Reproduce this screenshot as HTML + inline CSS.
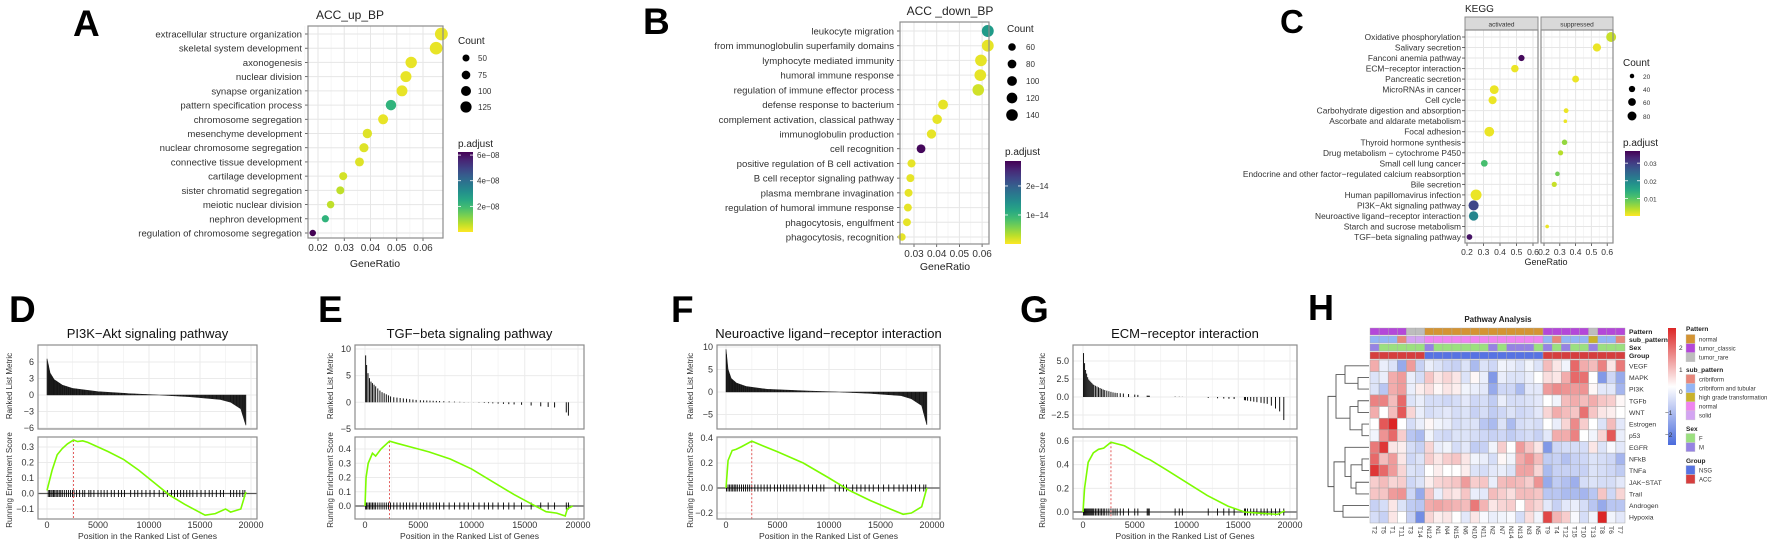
<!DOCTYPE html>
<html><head><meta charset="utf-8"><title>Enrichment figure</title>
<style>
html,body{margin:0;padding:0;background:#fff;}
svg{display:block;font-family:"Liberation Sans",Arial,sans-serif;}
</style></head>
<body>
<svg id="fig" width="1772" height="543" viewBox="0 0 1772 543" xmlns="http://www.w3.org/2000/svg">
<defs>
<clipPath id="clipC"><rect x="1229" y="0" width="543" height="275"/></clipPath>
</defs>
</svg>
<script>
// ---------- Panel A data ----------
const A_terms=["extracellular structure organization","skeletal system development","axonogenesis","nuclear division","synapse organization","pattern specification process","chromosome segregation","mesenchyme development","nuclear chromosome segregation","connective tissue development","cartilage development","sister chromatid segregation","meiotic nuclear division","nephron development","regulation of chromosome segregation"];
const A_ratio=[0.067,0.065,0.0555,0.0535,0.052,0.0478,0.0448,0.0388,0.0375,0.0358,0.0296,0.0285,0.0248,0.0228,0.018];
const A_count=[165,160,130,122,118,110,100,88,84,80,66,64,56,52,42];
const A_padj=[0.2e-8,0.2e-8,0.2e-8,0.2e-8,0.2e-8,2.2e-8,0.2e-8,0.3e-8,0.3e-8,0.3e-8,0.4e-8,0.6e-8,0.6e-8,2.2e-8,6.3e-8];
const A_ticks=[0.02,0.03,0.04,0.05,0.06];
// ---------- Panel B data ----------
const B_terms=["leukocyte migration","from immunoglobulin superfamily domains","lymphocyte mediated immunity","humoral immune response","regulation of immune effector process","defense response to bacterium","complement activation, classical pathway","immunoglobulin production","cell recognition","positive regulation of B cell activation","B cell receptor signaling pathway","plasma membrane invagination","regulation of humoral immune response","phagocytosis, engulfment","phagocytosis, recognition"];
const B_ratio=[0.0625,0.0625,0.0595,0.0592,0.0583,0.0428,0.0402,0.0377,0.0331,0.0289,0.0284,0.0276,0.0273,0.0269,0.0247];
const B_count=[148,146,142,141,139,102,96,90,80,68,67,66,65,64,58];
const B_padj=[1.3e-14,0.1e-14,0.1e-14,0.1e-14,0.2e-14,0.1e-14,0.1e-14,0.1e-14,2.8e-14,0.1e-14,0.1e-14,0.1e-14,0.1e-14,0.1e-14,0.1e-14];
const B_ticks=[0.03,0.04,0.05,0.06];
// ---------- Panel C data ----------
const C_terms=["Oxidative phosphorylation","Salivary secretion","Fanconi anemia pathway","ECM\u2212receptor interaction","Pancreatic secretion","MicroRNAs in cancer","Cell cycle","Carbohydrate digestion and absorption","Ascorbate and aldarate metabolism","Focal adhesion","Thyroid hormone synthesis","Drug metabolism \u2212 cytochrome P450","Small cell lung cancer","Endocrine and other factor\u2212regulated calcium reabsorption","Bile secretion","Human papillomavirus infection","PI3K\u2212Akt signaling pathway","Neuroactive ligand\u2212receptor interaction","Starch and sucrose metabolism","TGF\u2212beta signaling pathway"];
const C_facet=["s","s","a","a","s","a","a","s","s","a","s","s","a","s","s","a","a","a","s","a"];
const C_ratio=[0.625,0.535,0.53,0.49,0.40,0.365,0.355,0.34,0.335,0.335,0.33,0.305,0.305,0.285,0.265,0.255,0.24,0.24,0.22,0.215];
const C_count=[92,62,36,52,44,72,62,22,12,88,28,25,42,20,25,110,95,82,12,30];
const C_padj=[0.003,0.001,0.036,0.001,0.001,0.001,0.001,0.001,0.001,0.001,0.006,0.004,0.011,0.008,0.003,0.001,0.029,0.020,0.001,0.035];
const C_ticks=[0.2,0.3,0.4,0.5,0.6];
// ---------- GSEA data ----------
const D_esX=[0,500,1000,1500,2000,2600,3000,3500,4000,5000,6000,7500,9000,10500,12000,13500,15500,16500,17500,18000,19000,19500];
const D_esY=[0.02,0.15,0.25,0.29,0.32,0.345,0.335,0.34,0.33,0.30,0.27,0.22,0.15,0.07,-0.01,-0.07,-0.14,-0.13,-0.10,-0.12,-0.10,0.01];
const D_metX=[0,300,700,1500,2500,5000,8000,11000,14000,17000,18000,19000,19500];
const D_metY=[6.6,4,2.8,1.8,1.2,0.6,0.25,0,-0.3,-0.8,-1.3,-2.5,-5.5];
const D_hits=[120,250,380,500,640,760,900,1050,1200,1350,1500,1700,1900,2100,2300,2500,2650,2900,3200,3500,3700,4100,4300,4600,5000,5300,5600,5900,6300,6600,7000,7300,7600,8200,8600,8900,9300,9700,10100,10500,11000,11400,11800,12200,12500,12800,13100,13400,13700,14000,14300,14700,15100,15500,15900,16200,16600,17000,17300,18000,18300,18600,18900,19200,19400];
const E_esX=[0,100,300,700,1000,1500,2300,3000,5000,6000,8000,10000,12000,14000,15500,17000,18000,18800,19000,19500];
const E_esY=[0,0.2,0.3,0.37,0.35,0.40,0.455,0.44,0.40,0.38,0.33,0.26,0.17,0.08,0.02,-0.04,-0.05,-0.07,-0.02,0];
const E_metX=[0,200,500,1000,1500,2500,5000,10000,15000,18000,19000,19500];
const E_metY=[10,6,4,3,2,1,0.4,0,-0.5,-1,-2,-4.5];
const E_hits=[60,150,280,420,560,700,850,1000,1200,1400,1600,1800,2000,2200,2400,2700,3000,3300,3600,3900,4200,4500,4800,5200,5500,5800,6100,6400,6700,7000,7400,7900,8400,8900,9300,9700,10200,10700,11200,11600,12000,12500,13000,13500,14000,14700,15600,16500,17200,17800,18900,19100];
const F_esX=[0,200,600,1000,1500,2500,3500,5000,7500,10000,12000,14000,16000,17200,18000,19000,19500];
const F_esY=[0,0.22,0.30,0.31,0.33,0.375,0.34,0.29,0.20,0.08,-0.02,-0.10,-0.17,-0.21,-0.20,-0.15,0];
const F_metX=[0,200,500,1000,2000,4000,8000,11000,14000,17000,18000,19000,19500];
const F_metY=[9.5,5,3,2,1.2,0.6,0.2,0,-0.3,-0.8,-1.5,-3,-7.3];
const F_hits=[50,200,350,500,650,800,950,1100,1300,1500,1700,1900,2100,2300,2500,2800,3100,3400,3700,4000,4300,4700,5000,5300,5600,5900,6200,6500,6800,7200,7600,8000,8400,8800,9200,9500,10600,11000,11400,11700,12300,12700,13100,13500,13900,14300,14800,15300,15800,16300,16800,17200,17600,18000,18400,18800,19200,19400];
const G_esX=[0,150,500,1000,1500,2000,2700,4000,6000,6500,8000,10000,12000,14000,15600,17000,18800,19500];
const G_esY=[0,0.2,0.42,0.50,0.53,0.54,0.59,0.56,0.46,0.44,0.36,0.25,0.14,0.05,0,-0.01,-0.02,0.01];
const G_metX=[0,200,500,1000,2000,3000,6000,10000,15000,18000,19000,19500];
const G_metY=[6.8,4,2.5,1.7,1,0.6,0.2,0,-0.3,-1,-2,-3.5];
const G_hits=[50,150,250,350,450,550,650,750,850,950,1050,1200,1350,1500,1650,1800,1950,2100,2300,2500,2700,2900,3100,3300,3600,3900,4400,5000,5300,6200,6300,6400,8900,9300,9600,12100,13000,13600,14100,14600,15600,15700,15900,16200,16500,16800,17200,17500,17800,18200,18600,19000,19400];
// ---------- Heatmap data ----------
const H_cols=["T2","T5","T1","T11","T3","T14","N12","N1","N4","N15","N6","N10","N11","N2","N7","N14","N13","N3","N5","T9","T4","T12","T15","T10","T13","T8","T6","T7"];
const H_rows=["VEGF","MAPK","PI3K","TGFb","WNT","Estrogen","p53","EGFR","NFkB","TNFa","JAK\u2212STAT","Trail","Androgen","Hypoxia"];
const H_vegf=[1,-0.3,-0.5,-1.5,1.2,-0.8,-0.3,-0.5,-0.7,-0.8,-0.5,-1.2,-0.5,-0.7,-0.2,-0.3,-0.5,-0.2,-0.5,0.8,0.3,-0.2,1.8,1,0.8,1.5,0.3,1.6];
const H_mapk=[-0.5,-0.3,1,1.2,-0.3,-0.6,0.7,0.3,0.5,0.3,-0.5,0.1,-0.3,-1.8,-0.3,-0.5,-0.5,-0.3,0,0.4,0.3,1,1.8,1.7,0,-1.8,-0.7,-1.5];
const H_pi3k=[-0.5,-1,1,1.2,-0.3,0.2,0.4,0.1,0.3,0.2,-0.2,-0.3,-0.4,-1.5,-0.7,-0.7,-1.2,-0.4,-0.4,1.2,1.4,1.3,1.2,1.3,0.1,-0.4,-0.4,-1.3];
const H_tgfb=[1.5,1.5,0.8,1.8,-0.5,-0.3,-0.6,-0.6,-0.7,-0.6,-0.4,-0.7,-0.6,-0.9,-0.3,-0.6,-0.6,-0.5,-0.4,0,-0.2,0.8,1,0.8,1,0.7,0.6,0.1];
const H_wnt=[1,0,0.8,2,0.5,-0.3,-0.6,-0.5,-0.4,-0.6,-0.5,-0.8,-0.6,-0.9,-0.7,-0.5,-0.7,-0.6,-0.4,0.5,1,0.8,0.7,1.7,0.7,0.3,0.2,0];
const H_estrogen=[0,2,2.6,0,-0.6,-0.3,0.1,-0.2,-0.3,-0.6,-0.5,-0.5,-1,-1.2,-0.5,-1.2,-0.6,-0.5,-0.6,0,-0.3,0.5,1.4,0.6,0,-0.5,0.8,-0.4];
const H_p53=[-0.2,1.3,1.8,0.6,-1,-1.2,-0.2,-0.6,-0.7,-0.5,-0.5,-0.6,-0.7,-0.8,-0.7,-0.9,-0.7,-0.6,-0.8,-0.4,1,1,1.5,0,-0.2,0.5,2,-0.3];
const H_egfr=[1.6,2.4,0.3,0.2,-0.6,-0.8,0.5,-0.3,-0.2,-0.6,-0.4,-0.9,-0.8,-0.2,0.6,0,1.2,0.7,0.3,-1.8,-0.7,-0.6,-0.6,-0.6,0.3,-0.5,-0.1,-0.4];
const H_nfkb=[1.8,0.8,1.2,0.3,-0.7,-0.5,0.6,0.3,0.6,0.7,0.3,-0.2,-0.3,-0.6,0.1,-0.2,1,1.3,0.8,-0.9,-0.8,-1.1,-0.8,-0.7,-0.5,-0.6,-0.7,-1.3];
const H_tnfa=[2.4,1.8,1.2,0.5,-0.5,-0.6,0,0.2,0,0,0.2,-0.5,-0.6,-0.4,-0.3,-0.5,1.1,1.1,0.5,-1.2,-0.8,-0.8,-0.8,-0.8,-0.5,-0.6,-0.7,-0.9];
const H_jak=[0.6,0.8,0.5,0.6,-0.7,-0.5,0.2,0.5,0.6,0.7,1.2,0.6,0.7,-0.3,0.8,0.9,0.8,0.6,1.3,-1.5,-0.9,-1.1,-1.4,-0.6,-0.5,-0.6,-0.6,-0.4];
const H_trail=[0.7,0.7,1.2,1.3,-0.7,-1.5,0.7,-0.3,0.4,0.3,0.7,-0.3,-0.4,0.8,0.6,0.4,0.8,0.8,0.7,-1,-1,-1.2,-1.2,-1.3,-1,0.7,-0.7,0.5];
const H_androgen=[-0.8,-0.6,0.3,-0.5,-0.9,-1,1,1.1,1,0.9,0.8,1.6,0.9,0.3,0.5,0.6,0,0.7,0.5,-0.4,-0.8,-0.4,-0.3,-0.6,-1,-1.5,-1,-1];
const H_hypoxia=[-0.6,-0.8,0.3,0,-0.8,-2,0.5,0.2,0.3,0,-0.4,0.3,-0.1,-0.3,-0.2,-0.1,-0.6,0.4,-0.2,2.2,0.9,0.6,-0.1,-0.6,-0.2,2.6,-0.2,-0.4];
const H_pattern=["tc","tc","tc","tc","tr","tr","n","n","n","n","n","n","n","n","n","n","n","n","n","tc","tc","tc","tc","tc","tr","tc","tc","tc"];
const H_sub=["ct","ct","ct","cr","so","so","nm","nm","nm","nm","nm","nm","nm","nm","nm","nm","nm","nm","nm","ct","cr","ct","ct","ct","hg","ct","ct","cr"];
const H_sex=["M","F","F","F","F","F","M","F","F","F","F","F","F","M","F","M","M","M","F","M","F","M","F","F","M","F","F","F"];
const H_group=["A","A","A","A","A","A","N","N","N","N","N","N","N","N","N","N","N","N","N","A","A","A","A","A","A","A","A","A"];
const H_merges=[[1,2,1358],[3,4,1358],[5,6,1362],["m1","m2",1350],[0,"m0",1345],["m4","m3",1336],[8,9,1362],[10,11,1356],["m6","m7",1351],[7,"m8",1345],[12,13,1343],["m9","m10",1334],["m5","m11",1328]];

// ---------- helpers ----------
const NS='http://www.w3.org/2000/svg';
const svg=document.getElementById('fig');
function mk(tag,attrs,parent){const e=document.createElementNS(NS,tag);for(const k in attrs)e.setAttribute(k,attrs[k]);(parent||svg).appendChild(e);return e;}
function tx(str,x,y,attrs,parent){const t=mk('text',Object.assign({x:x,y:y},attrs||{}),parent);t.textContent=str;return t;}
const VIR=['#440154','#482878','#3e4989','#31688e','#26828e','#1f9e89','#35b779','#6ece58','#b5de2b','#fde725'];
function hex2(h){return [parseInt(h.substr(1,2),16),parseInt(h.substr(3,2),16),parseInt(h.substr(5,2),16)];}
function mix(a,b,t){const A=hex2(a),B=hex2(b);return 'rgb('+A.map((v,i)=>Math.round(v+(B[i]-v)*t)).join(',')+')';}
function vir(t){t=Math.max(0,Math.min(1,t));const p=t*(VIR.length-1);const i=Math.min(VIR.length-2,Math.floor(p));return mix(VIR[i],VIR[i+1],p-i);}
function padjColor(p,pmax){return vir(1-p/pmax);}
function div(v){const t=Math.max(-1,Math.min(1,v/2.6));return t<0?mix('#ffffff','#4a6bdc',-t):mix('#ffffff','#dc2626',t);}
function fmt(v){return String(v).replace('-','\u2212');}

// ---------- big panel letters ----------
[["A",73,36,37],["B",643,34,37],["C",1280,33,33],["D",9,322,37],["E",318,322,37],["F",671,322,37],["G",1020,322,37],["H",1308,320,36]].forEach(L=>{
  const t=tx(L[0],L[1],L[2],{'font-size':L[3],'font-weight':'bold',fill:'#000'});
  
  
});

// ---------- dot-plot panel drawing ----------
function gradient(id){
  const defs=svg.querySelector('defs');
  const lg=mk('linearGradient',{id:id,x1:0,y1:1,x2:0,y2:0},defs);
  for(let i=0;i<=10;i++){mk('stop',{offset:(i/10),'stop-color':vir(1-i/10)},lg);}
}
function facetPanel(g,x0,x1,y0,y1,rowYs,xpos,ticks,minorTicks,name){
  const bg=mk('rect',{x:x0,y:y0,width:x1-x0,height:y1-y0,fill:'#fff'},g);
  
  
  minorTicks.forEach(v=>{const l=mk('line',{x1:xpos(v),x2:xpos(v),y1:y0,y2:y1,stroke:'#f3f3f3','stroke-width':0.8},g);
    
    });
  ticks.forEach(v=>{const l=mk('line',{x1:xpos(v),x2:xpos(v),y1:y0,y2:y1,stroke:'#e6e6e6','stroke-width':1},g);
    
    });
  rowYs.forEach(y=>{const l=mk('line',{x1:x0,x2:x1,y1:y,y2:y,stroke:'#e6e6e6','stroke-width':1},g);
    
    });
}
function border(g,x0,x1,y0,y1,name){
  const b=mk('rect',{x:x0,y:y0,width:x1-x0,height:y1-y0,fill:'none',stroke:'#8c8c8c','stroke-width':1.2},g);
  
  
}
function sizeLegend(g,x,titleY,dotX,lblX,vals,ys,rk,fs,name){
  const t=tx('Count',x,titleY,{'font-size':10,fill:'#222'},g);
  
  
  vals.forEach((v,i)=>{
    const c=mk('circle',{cx:dotX,cy:ys[i],r:rk*Math.sqrt(v),fill:'#000'},g);
    
    
    const l=tx(String(v),lblX,ys[i]+3,{'font-size':fs,fill:'#333'},g);
    
    
  });
}
function colorLegend(g,x,titleY,bx,bw,by0,by1,pmax,tickVals,tickLbls,lblX,fs,gid,name){
  const t=tx('p.adjust',x,titleY,{'font-size':10,fill:'#222'},g);
  
  
  const r=mk('rect',{x:bx,y:by0,width:bw,height:by1-by0,fill:'url(#'+gid+')'},g);
  
  
  tickVals.forEach((v,i)=>{
    const y=by1-(v/pmax)*(by1-by0);
    const l1=mk('line',{x1:bx,x2:bx+3,y1:y,y2:y,stroke:'#fff','stroke-width':0.8},g);
    
    
    const l2=mk('line',{x1:bx+bw-3,x2:bx+bw,y1:y,y2:y,stroke:'#fff','stroke-width':0.8},g);
    
    
    const lt=tx(tickLbls[i],lblX,y+3,{'font-size':fs,fill:'#333'},g);
    
    
  });
}

function dotPlot(cfg){
  const g=mk('g',{});
  
  
  const n=cfg.terms.length;
  const rowY=i=>cfg.rowTop+i*(cfg.rowBot-cfg.rowTop)/(n-1);
  const xpos=v=>cfg.xAt0+(v-cfg.v0)*cfg.pxPerUnit;
  const rowYs=cfg.terms.map((_,i)=>rowY(i));
  const minors=[];for(let i=0;i<cfg.ticks.length-1;i++)minors.push((cfg.ticks[i]+cfg.ticks[i+1])/2);
  minors.push(cfg.ticks[0]-(cfg.ticks[1]-cfg.ticks[0])/2);
  facetPanel(g,cfg.x0,cfg.x1,cfg.y0,cfg.y1,rowYs,xpos,cfg.ticks,minors,cfg.name);
  const tt=tx(cfg.title,cfg.titleX,cfg.titleY,{'font-size':12,fill:'#222','text-anchor':'middle'},g);
  
  
  cfg.terms.forEach((t,i)=>{
    const l=tx(t,cfg.x0-6,rowY(i)+3.5,{'font-size':cfg.fs,fill:'#333','text-anchor':'end'},g);
    
    
    const tk=mk('line',{x1:cfg.x0-3,x2:cfg.x0,y1:rowY(i),y2:rowY(i),stroke:'#444','stroke-width':0.8},g);
    
    
  });
  cfg.ticks.forEach(v=>{
    const tk=mk('line',{x1:xpos(v),x2:xpos(v),y1:cfg.y1,y2:cfg.y1+3,stroke:'#444','stroke-width':0.8},g);
    
    
    const l=tx(v.toFixed(2),xpos(v),cfg.y1+13,{'font-size':cfg.tickFs,fill:'#333','text-anchor':'middle'},g);
    
    
  });
  const xl=tx('GeneRatio',cfg.xLabX,cfg.xLabY,{'font-size':10.5,fill:'#222','text-anchor':'middle'},g);
  
  
  cfg.ratio.forEach((v,i)=>{
    const c=mk('circle',{cx:xpos(v),cy:rowY(i),r:cfg.rk*Math.sqrt(cfg.count[i]),fill:padjColor(cfg.padj[i],cfg.pmax)},g);
    
    
  });
  border(g,cfg.x0,cfg.x1,cfg.y0,cfg.y1,cfg.name);
  return g;
}
gradient('gradVir');

const gA=dotPlot({name:'panel-a',terms:A_terms,ratio:A_ratio,count:A_count,padj:A_padj,pmax:6.24e-8,ticks:A_ticks,
  x0:308,x1:443,y0:26,y1:238,rowTop:34,rowBot:233,xAt0:318,v0:0.02,pxPerUnit:2625,fs:9.6,tickFs:10,rk:0.5,
  title:'ACC_up_BP',titleX:350,titleY:19,xLabX:375,xLabY:267});
sizeLegend(gA,458,44,466,478,[50,75,100,125],[58,75,91,107],0.5,8,'panel-a');
colorLegend(gA,458,147,458,15,152,232,6.24e-8,[2e-8,4e-8,6e-8],['2e\u221208','4e\u221208','6e\u221208'],477,8,'gradVir','panel-a');

const gB=dotPlot({name:'panel-b',terms:B_terms,ratio:B_ratio,count:B_count,padj:B_padj,pmax:2.86e-14,ticks:B_ticks,
  x0:900,x1:989,y0:22,y1:244,rowTop:31,rowBot:237,xAt0:914,v0:0.03,pxPerUnit:2270,fs:9.6,tickFs:10,rk:0.49,
  title:'ACC _down_BP',titleX:950,titleY:15,xLabX:945,xLabY:270});
sizeLegend(gB,1007,32,1012,1026,[60,80,100,120,140],[47,64,81,98,115],0.49,8,'panel-b');
colorLegend(gB,1005,155,1005,16,161,244,2.86e-14,[1e-14,2e-14],['1e\u221214','2e\u221214'],1026,8,'gradVir','panel-b');

// ---------- Panel C (faceted) ----------
(function(){
  const g=mk('g',{'clip-path':'url(#clipC)'});
  
  
  const n=C_terms.length,rowTop=37,rowBot=237,y0=30,y1=243;
  const rowY=i=>rowTop+i*(rowBot-rowTop)/(n-1);
  const rowYs=C_terms.map((_,i)=>rowY(i));
  const facets=[{k:'a',lbl:'activated',x0:1465,x1:1538,at:1467,ppu:165},{k:'s',lbl:'suppressed',x0:1541,x1:1613,at:1544,ppu:158}];
  const kt=tx('KEGG',1465,12,{'font-size':10,fill:'#222'},g);
  
  
  facets.forEach(f=>{
    const xpos=v=>f.at+(v-0.2)*f.ppu;
    facetPanel(g,f.x0,f.x1,y0,y1,rowYs,xpos,C_ticks,[0.25,0.35,0.45,0.55],'panel-c-'+f.lbl);
    const st=mk('rect',{x:f.x0,y:17,width:f.x1-f.x0,height:13,fill:'#d9d9d9',stroke:'#8c8c8c','stroke-width':1},g);
    
    
    const sl=tx(f.lbl,(f.x0+f.x1)/2,26.5,{'font-size':6.5,fill:'#333','text-anchor':'middle'},g);
    
    
    C_ticks.forEach(v=>{
      const tk=mk('line',{x1:xpos(v),x2:xpos(v),y1:y1,y2:y1+3,stroke:'#444','stroke-width':0.8},g);
      
      
      const l=tx(v.toFixed(1),xpos(v),y1+12,{'font-size':8.5,fill:'#333','text-anchor':'middle'},g);
      
      
    });
    C_ratio.forEach((v,i)=>{
      if(C_facet[i]!==f.k)return;
      const c=mk('circle',{cx:xpos(v),cy:rowY(i),r:0.52*Math.sqrt(C_count[i]),fill:padjColor(C_padj[i],0.0369)},g);
      
      
    });
    border(g,f.x0,f.x1,y0,y1,'panel-c-'+f.lbl);
  });
  C_terms.forEach((t,i)=>{
    const l=tx(t,1461,rowY(i)+3,{'font-size':8.4,fill:'#333','text-anchor':'end'},g);
    
    
    const tk=mk('line',{x1:1462,x2:1465,y1:rowY(i),y2:rowY(i),stroke:'#444','stroke-width':0.8},g);
    
    
  });
  const xl=tx('GeneRatio',1546,265,{'font-size':9,fill:'#222','text-anchor':'middle'},g);
  
  
  sizeLegend(g,1623,66,1632,1643,[20,40,60,80],[76,89,102,116],0.5,6.5,'panel-c');
  colorLegend(g,1623,146,1625,15,151,216,0.0369,[0.01,0.02,0.03],['0.01','0.02','0.03'],1644,6.5,'gradVir','panel-c');
})();

// ---------- GSEA panels ----------
function interp(xs,ys,x){if(x<=xs[0])return ys[0];for(let i=1;i<xs.length;i++){if(x<=xs[i]){const t=(x-xs[i-1])/(xs[i]-xs[i-1]);return ys[i-1]+t*(ys[i]-ys[i-1]);}}return ys[ys.length-1];}
function gsea(c){
  const g=mk('g',{});
  
  
  const X=p=>c.x0v+p*(c.x20k-c.x0v)/20000;
  const T0=345,T1=429,B0=437,B1=519;
  const yT=v=>c.tRef+(c.tRefV-v)*c.tPx;
  const yB=v=>c.bRef+(c.bRefV-v)*c.bPx;
  const tt=tx(c.title,(c.px0+c.px1)/2,338,{'font-size':13,fill:'#111','text-anchor':'middle'},g);
  
  
  [[T0,T1,'top'],[B0,B1,'bottom']].forEach(P=>{
    const r=mk('rect',{x:c.px0,y:P[0],width:c.px1-c.px0,height:P[1]-P[0],fill:'#fff'},g);
    
    
    [0,5000,10000,15000,20000,2500,7500,12500,17500].forEach((p,k)=>{
      const l=mk('line',{x1:X(p),x2:X(p),y1:P[0],y2:P[1],stroke:k<5?'#ebebeb':'#f5f5f5','stroke-width':1},g);
      
      
    });
  });
  c.tTicks.forEach((v,i)=>{
    const l=mk('line',{x1:c.px0,x2:c.px1,y1:yT(v),y2:yT(v),stroke:'#ebebeb','stroke-width':1},g);
    
    
    const t=tx(c.tLbls[i],c.px0-4,yT(v)+3,{'font-size':9,fill:'#333','text-anchor':'end'},g);
    
    
  });
  c.bTicks.forEach((v,i)=>{
    const l=mk('line',{x1:c.px0,x2:c.px1,y1:yB(v),y2:yB(v),stroke:'#ebebeb','stroke-width':1},g);
    
    
    const t=tx(c.bLbls[i],c.px0-4,yB(v)+3,{'font-size':9,fill:'#333','text-anchor':'end'},g);
    
    
  });
  if(c.dense){
    let d='M'+X(c.metX[0])+','+yT(0);
    c.metX.forEach((p,i)=>{d+=' L'+X(p)+','+yT(c.metY[i]);});
    d+=' L'+X(c.metX[c.metX.length-1])+','+yT(0)+' Z';
    const a=mk('path',{d:d,fill:'#222',stroke:'#222','stroke-width':0.6},g);
    
    
  }
  c.hits.forEach(p=>{
    const v=interp(c.metX,c.metY,p);
    const b=mk('line',{x1:X(p),x2:X(p),y1:yT(0),y2:yT(v),stroke:'#111','stroke-width':c.dense?0.7:1},g);
    
    
  });
  const z=mk('line',{x1:c.px0,x2:c.px1,y1:yB(0),y2:yB(0),stroke:'#555','stroke-width':1.3},g);
  
  
  c.hits.forEach(p=>{
    const h=mk('line',{x1:X(p),x2:X(p),y1:yB(0)-3.5,y2:yB(0)+3.5,stroke:'#000','stroke-width':0.9},g);
    
    
  });
  let pk=0;c.esY.forEach((v,i)=>{if(Math.abs(v)>Math.abs(c.esY[pk]))pk=i;});
  const dl=mk('line',{x1:X(c.esX[pk]),x2:X(c.esX[pk]),y1:yB(c.esY[pk]),y2:B1,stroke:'#e35d5d','stroke-width':1,'stroke-dasharray':'2,2'},g);
  
  
  const pts=c.esX.map((p,i)=>X(p)+','+yB(c.esY[i])).join(' ');
  const es=mk('polyline',{points:pts,fill:'none',stroke:'#7cfc00','stroke-width':1.6},g);
  
  
  [[T0,T1,'top'],[B0,B1,'bottom']].forEach(P=>{border(g,c.px0,c.px1,P[0],P[1],c.name+'-'+P[2]);});
  [0,5000,10000,15000,20000].forEach(p=>{
    const t=tx(String(p),X(p),528,{'font-size':9,fill:'#333','text-anchor':'middle'},g);
    
    
  });
  const xl=tx('Position in the Ranked List of Genes',(c.px0+c.px1)/2,539,{'font-size':8.6,fill:'#333','text-anchor':'middle'},g);
  
  
  const ax=c.axX;
  const y1t=tx('Ranked List Metric',0,0,{'font-size':8,fill:'#333','text-anchor':'middle',transform:'translate('+ax+',386) rotate(-90)'},g);
  
  
  const y2t=tx('Running Enrichment Score',0,0,{'font-size':8,fill:'#333','text-anchor':'middle',transform:'translate('+ax+',480) rotate(-90)'},g);
  
  
}
gsea({name:'panel-d',title:'PI3K\u2212Akt signaling pathway',px0:38,px1:257,x0v:47,x20k:251,axX:12,esX:D_esX,esY:D_esY,metX:D_metX,metY:D_metY,hits:D_hits,dense:true,
  tRef:362,tRefV:6,tPx:5.5,tTicks:[-6,-3,0,3,6],tLbls:['\u22126','\u22123','0','3','6'],
  bRef:447,bRefV:0.3,bPx:155,bTicks:[-0.1,0,0.1,0.2,0.3],bLbls:['\u22120.1','0.0','0.1','0.2','0.3']});
gsea({name:'panel-e',title:'TGF\u2212beta signaling pathway',px0:355,px1:584,x0v:365,x20k:578,axX:333,esX:E_esX,esY:E_esY,metX:E_metX,metY:E_metY,hits:E_hits,dense:false,
  tRef:349,tRefV:10,tPx:5.33,tTicks:[-5,0,5,10],tLbls:['\u22125','0','5','10'],
  bRef:506,bRefV:0,bPx:142.5,bTicks:[0,0.1,0.2,0.3,0.4],bLbls:['0.0','0.1','0.2','0.3','0.4']});
gsea({name:'panel-f',title:'Neuroactive ligand\u2212receptor interaction',px0:717,px1:940,x0v:726,x20k:932,axX:693,esX:F_esX,esY:F_esY,metX:F_metX,metY:F_metY,hits:F_hits,dense:true,
  tRef:347,tRefV:10,tPx:4.5,tTicks:[-5,0,5,10],tLbls:['\u22125','0','5','10'],
  bRef:438,bRefV:0.4,bPx:125,bTicks:[-0.2,0,0.2,0.4],bLbls:['\u22120.2','0.0','0.2','0.4']});
gsea({name:'panel-g',title:'ECM\u2212receptor interaction',px0:1073,px1:1297,x0v:1083,x20k:1290,axX:1045,esX:G_esX,esY:G_esY,metX:G_metX,metY:G_metY,hits:G_hits,dense:false,
  tRef:361,tRefV:5,tPx:7.2,tTicks:[-2.5,0,2.5,5],tLbls:['\u22122.5','0.0','2.5','5.0'],
  bRef:512,bRefV:0,bPx:118.3,bTicks:[0,0.2,0.4,0.6],bLbls:['0.0','0.2','0.4','0.6']});

// ---------- Panel H heatmap ----------
(function(){
  const g=mk('g',{});
  
  
  const M=[H_vegf,H_mapk,H_pi3k,H_tgfb,H_wnt,H_estrogen,H_p53,H_egfr,H_nfkb,H_tnfa,H_jak,H_trail,H_androgen,H_hypoxia];
  const hx0=1370,hx1=1625,hy0=360,hy1=523;
  const cw=(hx1-hx0)/H_cols.length,rh=(hy1-hy0)/H_rows.length;
  const t=tx('Pathway Analysis',1498,322,{'font-size':8,'font-weight':'bold',fill:'#222','text-anchor':'middle'},g);
  
  
  const patC={tc:'#b447d9',tr:'#bdbdbd',n:'#d49433'};
  const subC={cr:'#e8877b',ct:'#93b5f5',hg:'#c9b22c',nm:'#ef84f0',so:'#d3a4f2'};
  const sexC={F:'#9be07f',M:'#9683e3'};
  const grpC={A:'#d63e3e',N:'#5773e3'};
  const ann=[[H_pattern,patC,'Pattern'],[H_sub,subC,'sub_pattern'],[H_sex,sexC,'Sex'],[H_group,grpC,'Group']];
  ann.forEach((a,k)=>{
    const y=328+k*8;
    a[0].forEach((v,j)=>{
      const r=mk('rect',{x:hx0+j*cw,y:y,width:cw,height:7,fill:a[1][v],stroke:'#aaa','stroke-width':0.4},g);
      
      
    });
    const l=tx(a[2],hx1+4,y+6,{'font-size':6.8,'font-weight':'bold',fill:'#222'},g);
    
    
  });
  M.forEach((row,i)=>{
    row.forEach((v,j)=>{
      const r=mk('rect',{x:hx0+j*cw,y:hy0+i*rh,width:cw,height:rh,fill:div(v),stroke:'#a9a9a9','stroke-width':0.5},g);
      
      
    });
    const l=tx(H_rows[i],hx1+4,hy0+i*rh+rh/2+2.5,{'font-size':6.8,fill:'#333'},g);
    
    
  });
  H_cols.forEach((c,j)=>{
    const x=hx0+j*cw+cw/2;
    const l=tx(c,0,0,{'font-size':6.8,fill:'#333',transform:'translate('+(x-2.3)+','+(hy1+3)+') rotate(90)'},g);
    
    
  });
  const leafY=i=>hy0+i*rh+rh/2;
  const nodes=[];
  const get=k=>typeof k==='number'?{y:leafY(k),x:hx0-1}:nodes[parseInt(k.slice(1))];
  H_merges.forEach(m=>{
    const a=get(m[0]),b=get(m[1]),x=m[2];
    const p=mk('path',{d:'M'+a.x+','+a.y+' H'+x+' V'+b.y+' H'+b.x,fill:'none',stroke:'#555','stroke-width':0.9},g);
    
    
    nodes.push({x:x,y:(a.y+b.y)/2});
  });
  const defs=svg.querySelector('defs');
  const lg=mk('linearGradient',{id:'gradDiv',x1:0,y1:1,x2:0,y2:0},defs);
  for(let i=0;i<=10;i++){mk('stop',{offset:i/10,'stop-color':div(-2.6+5.2*i/10)},lg);}
  const cb=mk('rect',{x:1668,y:328,width:8,height:117,fill:'url(#gradDiv)'},g);
  
  
  [[2,348],[1,370],[0,392],[-1,413],[-2,435]].forEach(k=>{
    const l=tx(fmt(k[0]),k[0]<0?1665:1679,k[1]+2,{'font-size':6.5,fill:'#333'},g);
    
    
  });
  const legs=[['Pattern',331,[['normal','#d49433'],['tumor_classic','#b447d9'],['tumor_rare','#bdbdbd']],339],
    ['sub_pattern',372,[['cribriform','#e8877b'],['cribriform and tubular','#93b5f5'],['high grade transformation','#c9b22c'],['normal','#ef84f0'],['solid','#d3a4f2']],379],
    ['Sex',431,[['F','#9be07f'],['M','#9683e3']],438],
    ['Group',463,[['NSG','#5773e3'],['ACC','#d63e3e']],470]];
  legs.forEach(L=>{
    const t2=tx(L[0],1686,L[1],{'font-size':6.5,'font-weight':'bold',fill:'#222'},g);
    
    
    L[2].forEach((e,i)=>{
      const y=L[3]+i*9.1;
      const r=mk('rect',{x:1686,y:y-4.5,width:9,height:9,fill:e[1],stroke:'#ccc','stroke-width':0.4},g);
      
      
      const l=tx(e[0],1699,y+2.3,{'font-size':6,fill:'#333'},g);
      
      
    });
  });
})();
</script>
</body></html>
